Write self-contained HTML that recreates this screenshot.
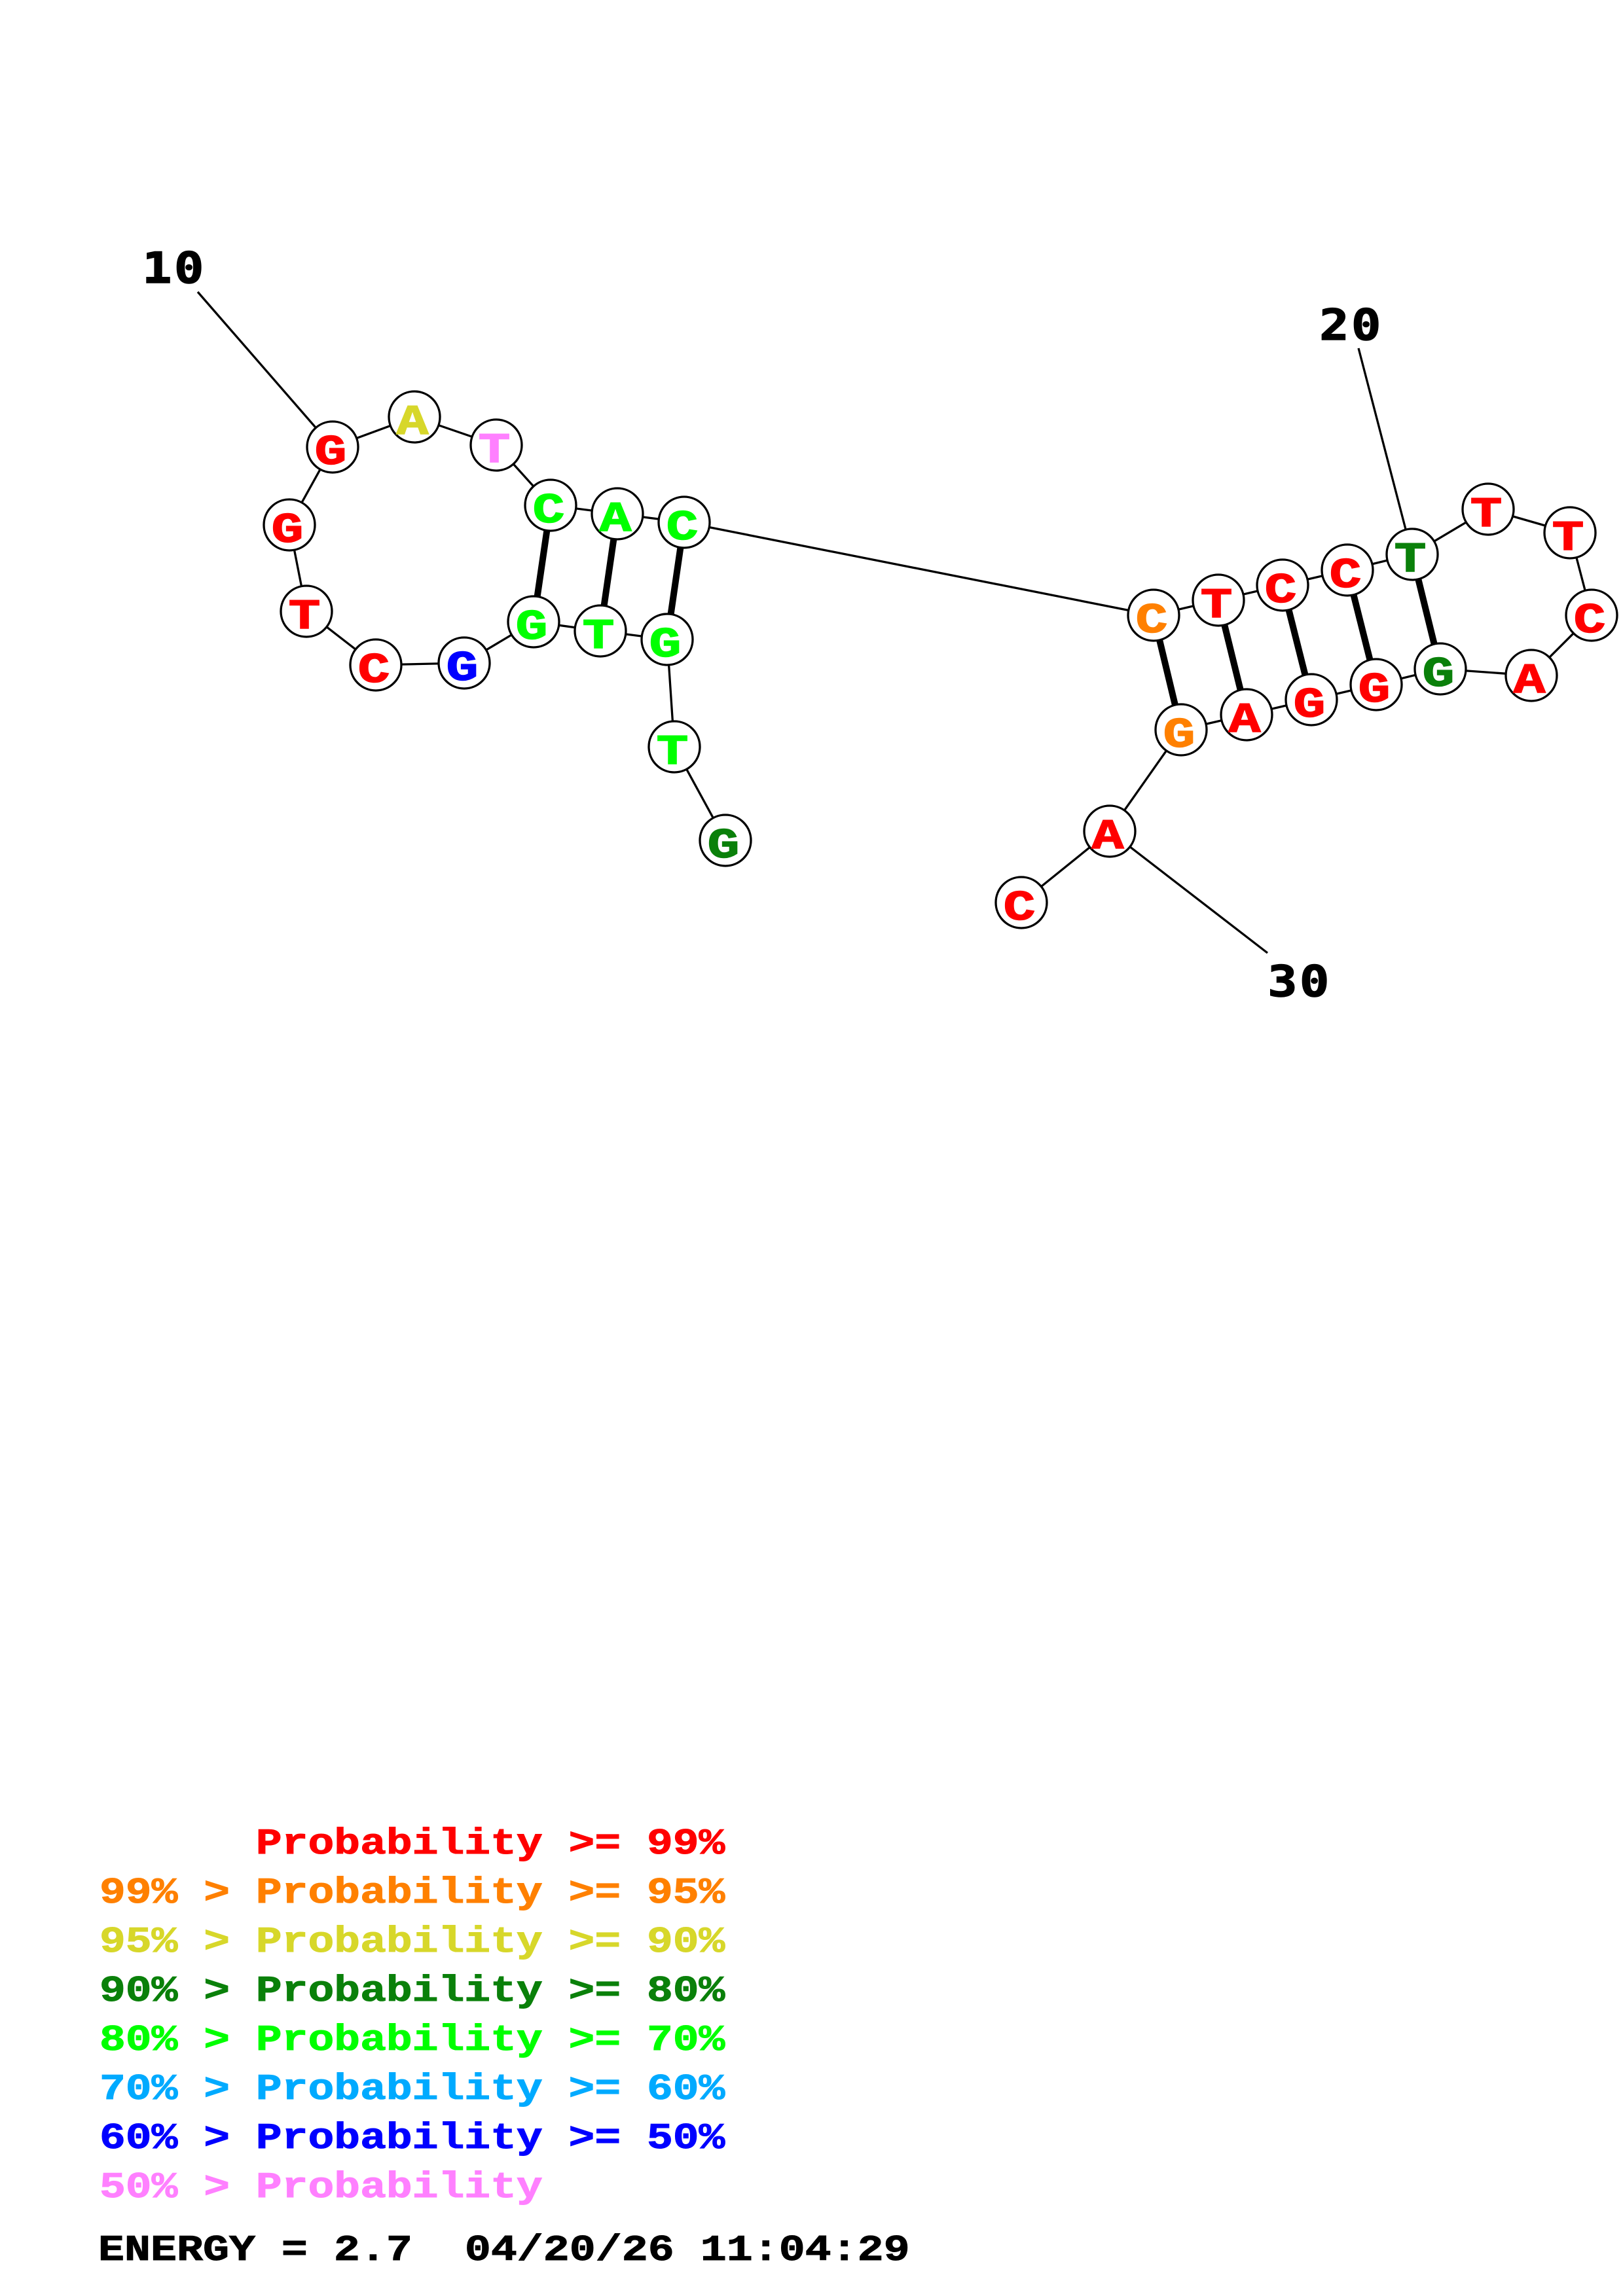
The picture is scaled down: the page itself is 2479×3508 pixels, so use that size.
<!DOCTYPE html>
<html><head><meta charset="utf-8"><style>
html,body{margin:0;padding:0;background:#fff}
svg{display:block}
text{font-family:"Liberation Mono",monospace;font-weight:bold;white-space:pre}
.n text{font-size:65px;text-anchor:middle;stroke-width:1.5px}
.l text{font-size:66px;font-family:"DejaVu Sans Mono",monospace;text-anchor:middle;letter-spacing:3px;stroke:#000;stroke-width:1.5px}
.k text{font-size:56px;stroke-width:1px}
</style></head><body>
<svg xmlns="http://www.w3.org/2000/svg" width="2479" height="3508" viewBox="0 0 2479 3508">
<g stroke="#000" stroke-width="3.3" fill="none">
<polyline points="302,446 508,683 633,637 758,680 841,772 943,785 1045,798 1762,940 1861,917 1959,894 2058,871 2157,847 2273,778 2398,814 2431,940 2339,1032 2200,1022 2102,1046 2003,1069 1904,1092 1804,1115 1695,1270 1560,1379"/>
<polyline points="508,683 442,802 468,934 574,1016 709,1013 815,950 917,964 1019,977 1030,1141 1108,1284"/>
<line x1="2075" y1="532" x2="2157" y2="847"/>
<line x1="1936" y1="1456" x2="1695" y2="1270"/>
</g>
<g stroke="#000" stroke-width="10">
<line x1="841" y1="772" x2="815" y2="950"/><line x1="943" y1="785" x2="917" y2="964"/><line x1="1045" y1="798" x2="1019" y2="977"/>
<line x1="1762" y1="940" x2="1804" y2="1115"/><line x1="1861" y1="917" x2="1904" y2="1092"/><line x1="1959" y1="894" x2="2003" y2="1069"/><line x1="2058" y1="871" x2="2102" y2="1046"/><line x1="2157" y1="847" x2="2200" y2="1022"/>
</g>
<g fill="#fff" stroke="#000" stroke-width="3.3">
<circle cx="508" cy="683" r="39"/><circle cx="633" cy="637" r="39"/><circle cx="758" cy="680" r="39"/><circle cx="841" cy="772" r="39"/><circle cx="943" cy="785" r="39"/><circle cx="1045" cy="798" r="39"/><circle cx="442" cy="802" r="39"/><circle cx="468" cy="934" r="39"/><circle cx="574" cy="1016" r="39"/><circle cx="709" cy="1013" r="39"/><circle cx="815" cy="950" r="39"/><circle cx="917" cy="964" r="39"/><circle cx="1019" cy="977" r="39"/><circle cx="1030" cy="1141" r="39"/><circle cx="1108" cy="1284" r="39"/>
<circle cx="1762" cy="940" r="39"/><circle cx="1861" cy="917" r="39"/><circle cx="1959" cy="894" r="39"/><circle cx="2058" cy="871" r="39"/><circle cx="2157" cy="847" r="39"/><circle cx="2273" cy="778" r="39"/><circle cx="2398" cy="814" r="39"/><circle cx="2431" cy="940" r="39"/><circle cx="2339" cy="1032" r="39"/><circle cx="2200" cy="1022" r="39"/><circle cx="2102" cy="1046" r="39"/><circle cx="2003" cy="1069" r="39"/><circle cx="1904" cy="1092" r="39"/><circle cx="1804" cy="1115" r="39"/><circle cx="1695" cy="1270" r="39"/><circle cx="1560" cy="1379" r="39"/>
</g>
<g class="n">
<text transform="translate(505,709) scale(1.25,1)" fill="#f00" stroke="#f00">G</text>
<text transform="translate(630,663) scale(1.25,1)" fill="#d7d72a" stroke="#d7d72a">A</text>
<text transform="translate(755,706) scale(1.25,1)" fill="#ff80ff" stroke="#ff80ff">T</text>
<text transform="translate(838,798) scale(1.25,1)" fill="#0f0" stroke="#0f0">C</text>
<text transform="translate(940,811) scale(1.25,1)" fill="#0f0" stroke="#0f0">A</text>
<text transform="translate(1042,824) scale(1.25,1)" fill="#0f0" stroke="#0f0">C</text>
<text transform="translate(439,828) scale(1.25,1)" fill="#f00" stroke="#f00">G</text>
<text transform="translate(465,960) scale(1.25,1)" fill="#f00" stroke="#f00">T</text>
<text transform="translate(571,1042) scale(1.25,1)" fill="#f00" stroke="#f00">C</text>
<text transform="translate(706,1039) scale(1.25,1)" fill="#00f" stroke="#00f">G</text>
<text transform="translate(812,976) scale(1.25,1)" fill="#0f0" stroke="#0f0">G</text>
<text transform="translate(914,990) scale(1.25,1)" fill="#0f0" stroke="#0f0">T</text>
<text transform="translate(1016,1003) scale(1.25,1)" fill="#0f0" stroke="#0f0">G</text>
<text transform="translate(1027,1167) scale(1.25,1)" fill="#0f0" stroke="#0f0">T</text>
<text transform="translate(1105,1310) scale(1.25,1)" fill="#0a800a" stroke="#0a800a">G</text>
<text transform="translate(1759,966) scale(1.25,1)" fill="#ff8000" stroke="#ff8000">C</text>
<text transform="translate(1858,943) scale(1.25,1)" fill="#f00" stroke="#f00">T</text>
<text transform="translate(1956,920) scale(1.25,1)" fill="#f00" stroke="#f00">C</text>
<text transform="translate(2055,897) scale(1.25,1)" fill="#f00" stroke="#f00">C</text>
<text transform="translate(2154,873) scale(1.25,1)" fill="#0a800a" stroke="#0a800a">T</text>
<text transform="translate(2270,804) scale(1.25,1)" fill="#f00" stroke="#f00">T</text>
<text transform="translate(2395,840) scale(1.25,1)" fill="#f00" stroke="#f00">T</text>
<text transform="translate(2428,966) scale(1.25,1)" fill="#f00" stroke="#f00">C</text>
<text transform="translate(2336,1058) scale(1.25,1)" fill="#f00" stroke="#f00">A</text>
<text transform="translate(2197,1048) scale(1.25,1)" fill="#0a800a" stroke="#0a800a">G</text>
<text transform="translate(2099,1072) scale(1.25,1)" fill="#f00" stroke="#f00">G</text>
<text transform="translate(2000,1095) scale(1.25,1)" fill="#f00" stroke="#f00">G</text>
<text transform="translate(1901,1118) scale(1.25,1)" fill="#f00" stroke="#f00">A</text>
<text transform="translate(1801,1141) scale(1.25,1)" fill="#ff8000" stroke="#ff8000">G</text>
<text transform="translate(1692,1296) scale(1.25,1)" fill="#f00" stroke="#f00">A</text>
<text transform="translate(1557,1405) scale(1.25,1)" fill="#f00" stroke="#f00">C</text>
</g>
<g class="l">
<text transform="translate(266,432) scale(1.14,0.98)">10</text>
<text transform="translate(2064,519) scale(1.14,0.98)">20</text>
<text transform="translate(1985,1522) scale(1.14,0.98)">30</text>
</g>
<g class="k">
<text transform="translate(152,2832) scale(1.185,1)" fill="#f00" stroke="#f00">      Probability &gt;= 99%</text>
<text transform="translate(152,2907) scale(1.185,1)" fill="#ff8000" stroke="#ff8000">99% &gt; Probability &gt;= 95%</text>
<text transform="translate(152,2982) scale(1.185,1)" fill="#d7d72a" stroke="#d7d72a">95% &gt; Probability &gt;= 90%</text>
<text transform="translate(152,3057) scale(1.185,1)" fill="#0a800a" stroke="#0a800a">90% &gt; Probability &gt;= 80%</text>
<text transform="translate(152,3132) scale(1.185,1)" fill="#0f0" stroke="#0f0">80% &gt; Probability &gt;= 70%</text>
<text transform="translate(152,3207) scale(1.185,1)" fill="#00aaff" stroke="#00aaff">70% &gt; Probability &gt;= 60%</text>
<text transform="translate(152,3282) scale(1.185,1)" fill="#00f" stroke="#00f">60% &gt; Probability &gt;= 50%</text>
<text transform="translate(152,3357) scale(1.185,1)" fill="#ff80ff" stroke="#ff80ff">50% &gt; Probability</text>
<text transform="translate(150,3453) scale(1.19,1)" fill="#000" stroke="#000">ENERGY = 2.7  04/20/26 11:04:29</text>
</g>
</svg>
</body></html>
